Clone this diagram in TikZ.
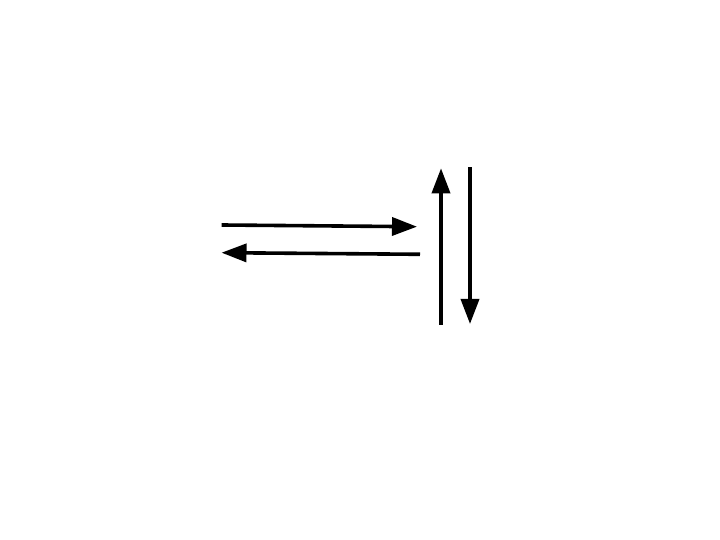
\documentclass[tikz,border=0pt]{standalone}
\usetikzlibrary{arrows.meta}
\begin{document}
\begin{tikzpicture}[x=1pt,y=1pt,
  arr/.style={line width=3.6pt,-{Triangle[length=25pt,width=18pt]}}]
\useasboundingbox[fill=white] (0,0) rectangle (720,540);
\coordinate (a1) at (221.7,315);
\coordinate (b1) at (417,313.3);
\coordinate (a2) at (420,285.7);
\coordinate (b2) at (221.5,287.3);
\coordinate (a3) at (441,215);
\coordinate (b3) at (441,371.7);
\coordinate (a4) at (470,372.7);
\coordinate (b4) at (470,216);
\draw[arr] (a1) -- (b1);
\draw[arr] (a2) -- (b2);
\draw[arr] (a3) -- (b3);
\draw[arr] (a4) -- (b4);
\end{tikzpicture}
\end{document}
